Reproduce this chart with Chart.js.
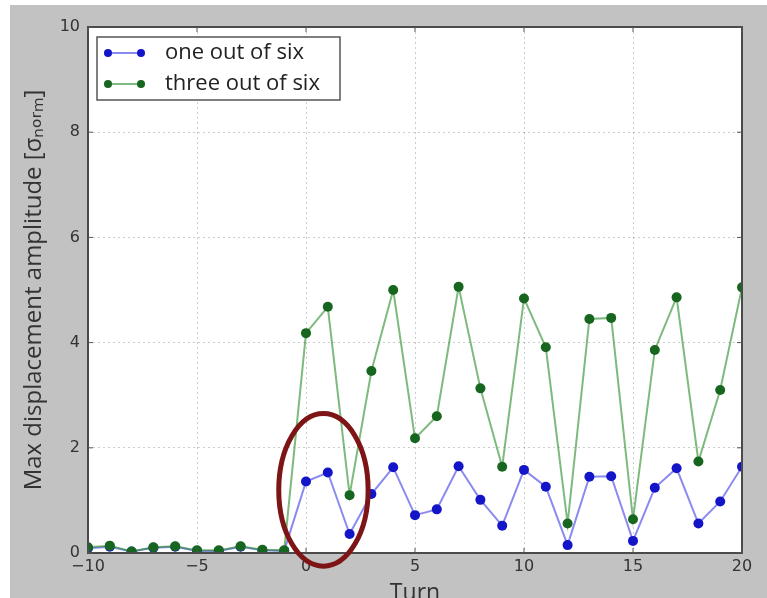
<!DOCTYPE html>
<html>
<head>
<meta charset="utf-8">
<script src="https://cdn.jsdelivr.net/npm/chart.js@4/dist/chart.umd.min.js"></script>
<style>
  html, body { margin: 0; padding: 0; background: #fff; }
</style>
</head>
<body>
<canvas id="myChart" width="767" height="598"></canvas>
<script>
// turn numbers on the x axis
var turns = [-10, -9, -8, -7, -6, -5, -4, -3, -2, -1, 0, 1, 2, 3, 4, 5, 6, 7, 8, 9, 10, 11, 12, 13, 14, 15, 16, 17, 18, 19, 20];

var oneOutOfSix = [0.09, 0.12, 0.03, 0.1, 0.12, 0.04, 0.04, 0.12, 0.05, 0.04,
                   1.36, 1.53, 0.36, 1.12, 1.63, 0.72, 0.83, 1.65, 1.01, 0.52,
                   1.58, 1.26, 0.15, 1.45, 1.46, 0.23, 1.24, 1.61, 0.56, 0.98, 1.64];

var threeOutOfSix = [0.11, 0.14, 0.03, 0.11, 0.13, 0.05, 0.05, 0.13, 0.06, 0.05,
                     4.18, 4.68, 1.10, 3.46, 5.00, 2.18, 2.60, 5.06, 3.13, 1.64,
                     4.84, 3.91, 0.56, 4.45, 4.47, 0.64, 3.86, 4.86, 1.74, 3.10, 5.05];

var xTicks = [-10, -5, 0, 5, 10, 15, 20];
var yTicks = [0, 2, 4, 6, 8, 10];

// highlighted region (data units)
var circleCenter = [0.8, 1.2];
var circleRadius = [2.05, 1.45];

function toPoints(ys) {
  return turns.map(function (t, i) { return { x: t, y: ys[i] }; });
}

var FONT = "'DejaVu Sans', sans-serif";
var LABEL_FONT = "'Open Sans', 'DejaVu Sans', sans-serif";

var figurePlugin = {
  id: 'figure',
  beforeDraw: function (chart) {
    var c = chart.ctx, a = chart.chartArea;
    c.save();
    c.fillStyle = '#fff';
    c.fillRect(0, 0, chart.width, chart.height);
    c.fillStyle = '#c2c2c2';
    c.fillRect(10, 5, chart.width - 10, chart.height - 5);
    c.fillStyle = '#fff';
    c.fillRect(a.left, a.top, a.right - a.left, a.bottom - a.top);
    c.restore();
  },
  afterDraw: function (chart) {
    var c = chart.ctx, a = chart.chartArea;
    var xs = chart.scales.x, ys = chart.scales.y;
    c.save();
    // frame
    c.strokeStyle = '#4a4a4a';
    c.lineWidth = 2;
    c.strokeRect(a.left, a.top, a.right - a.left, a.bottom - a.top);
    // inward ticks
    c.lineWidth = 1;
    c.strokeStyle = '#555';
    xTicks.forEach(function (v) {
      var px = xs.getPixelForValue(v);
      c.beginPath();
      c.moveTo(px, a.bottom); c.lineTo(px, a.bottom - 5);
      c.moveTo(px, a.top); c.lineTo(px, a.top + 5);
      c.stroke();
    });
    yTicks.forEach(function (v) {
      var py = ys.getPixelForValue(v);
      c.beginPath();
      c.moveTo(a.left, py); c.lineTo(a.left + 5, py);
      c.moveTo(a.right, py); c.lineTo(a.right - 5, py);
      c.stroke();
    });

    // ellipse annotation
    var cx = xs.getPixelForValue(circleCenter[0]);
    var cy = ys.getPixelForValue(circleCenter[1]);
    var rx = Math.abs(xs.getPixelForValue(circleCenter[0] + circleRadius[0]) - cx);
    var ry = Math.abs(ys.getPixelForValue(circleCenter[1] + circleRadius[1]) - cy);
    c.beginPath();
    c.ellipse(cx, cy, rx, ry, 0, 0, Math.PI * 2);
    c.strokeStyle = '#7d1517';
    c.lineWidth = 5;
    c.stroke();

    // legend box
    var lx = a.left + 9, ly = a.top + 10, lw = 243, lh = 63;
    c.fillStyle = '#fff';
    c.fillRect(lx, ly, lw, lh);
    c.strokeStyle = '#555';
    c.lineWidth = 1.5;
    c.strokeRect(lx, ly, lw, lh);
    c.font = '22px ' + LABEL_FONT;
    c.textBaseline = 'middle';
    var entries = chart.data.datasets.slice().sort(function (p, q) { return q.order - p.order; });
    entries.forEach(function (ds, i) {
      var yy = ly + 16 + i * 31;
      c.strokeStyle = ds.borderColor;
      c.lineWidth = 2;
      c.beginPath();
      c.moveTo(lx + 11, yy); c.lineTo(lx + 44, yy);
      c.stroke();
      c.fillStyle = ds.pointBackgroundColor;
      [lx + 11, lx + 44].forEach(function (mx) {
        c.beginPath();
        c.arc(mx, yy, 4, 0, Math.PI * 2);
        c.fill();
      });
      c.fillStyle = '#222';
      c.fillText(ds.label, lx + 68, yy);
    });
    c.restore();
  }
};

var ctx = document.getElementById('myChart').getContext('2d');
var myChart = new Chart(ctx, {
  type: 'line',
  data: {
    datasets: [{
      label: 'one out of six',
      data: toPoints(oneOutOfSix),
      order: 2,
      borderColor: 'rgba(60, 60, 230, 0.6)',
      backgroundColor: '#1414c8',
      pointBackgroundColor: '#1414c8',
      pointBorderColor: '#1414c8',
      pointRadius: 5,
      pointBorderWidth: 0,
      borderWidth: 2,
      tension: 0
    }, {
      label: 'three out of six',
      data: toPoints(threeOutOfSix),
      order: 1,
      borderColor: 'rgba(40, 140, 40, 0.6)',
      backgroundColor: '#17661f',
      pointBackgroundColor: '#17661f',
      pointBorderColor: '#17661f',
      pointRadius: 5,
      pointBorderWidth: 0,
      borderWidth: 2,
      tension: 0
    }]
  },
  options: {
    responsive: false,
    animation: false,
    devicePixelRatio: 1,
    layout: { padding: { left: 0, top: 27, right: 25, bottom: 0 } },
    plugins: {
      legend: { display: false },
      tooltip: { enabled: false }
    },
    scales: {
      x: {
        type: 'linear',
        min: -10,
        max: 20,
        afterFit: function (s) { s.height = 45; },
        afterBuildTicks: function (s) { s.ticks = xTicks.map(function (v) { return { value: v }; }); },
        ticks: {
          padding: 4,
          color: '#333',
          font: { family: FONT, size: 16 },
          callback: function (v) { return String(v).replace('-', '\u2212'); }
        },
        grid: { color: 'rgba(0,0,0,0.2)', drawTicks: false },
        border: { display: false, dash: [2, 3] },
        title: {
          display: true,
          text: 'Turn',
          color: '#333',
          font: { family: LABEL_FONT, size: 23 },
          padding: { top: 0, bottom: -9 }
        }
      },
      y: {
        min: 0,
        max: 10,
        afterFit: function (s) { s.width = 88; },
        afterBuildTicks: function (s) { s.ticks = yTicks.map(function (v) { return { value: v }; }); },
        ticks: {
          padding: 8,
          color: '#333',
          font: { family: FONT, size: 16 }
        },
        grid: { color: 'rgba(0,0,0,0.2)', drawTicks: false },
        border: { display: false, dash: [2, 3] },
        title: {
          display: true,
          text: 'Max displacement amplitude [σₙₒᵣₘ]',
          color: '#333',
          font: { family: LABEL_FONT, size: 24 },
          padding: { top: 20, bottom: 0 }
        }
      }
    }
  },
  plugins: [figurePlugin]
});
</script>
</body>
</html>
